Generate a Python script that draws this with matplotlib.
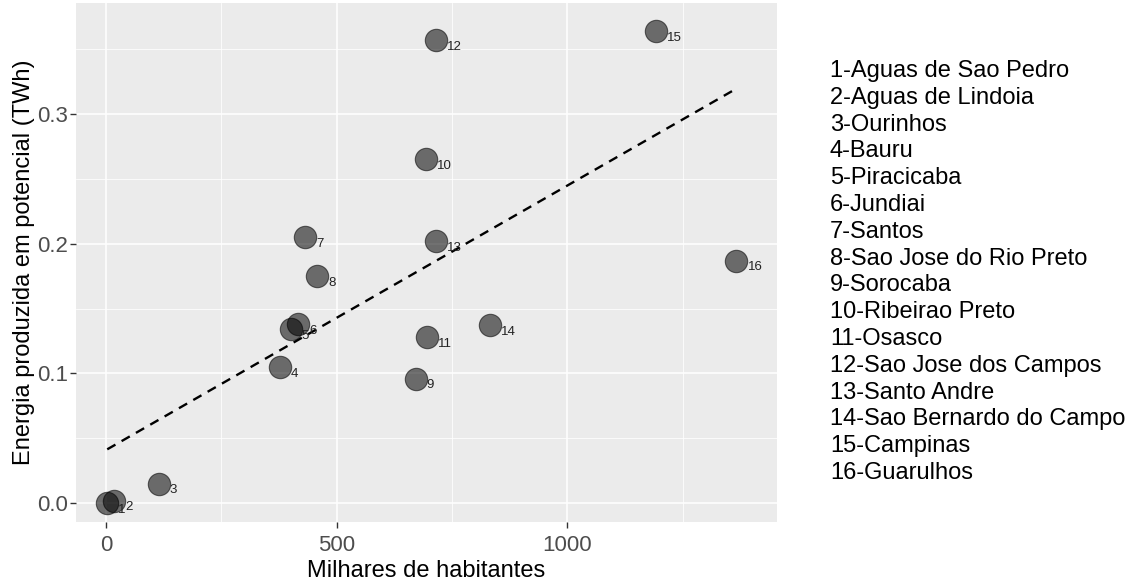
import numpy as np
import matplotlib
matplotlib.use("Agg")
import matplotlib.pyplot as plt

plt.rcParams['font.family'] = ['Liberation Sans', 'DejaVu Sans']

# dados: populacao (milhares) e energia (TWh)
ids = list(range(1, 17))
cidades = ["Aguas de Sao Pedro", "Aguas de Lindoia", "Ourinhos", "Bauru",
           "Piracicaba", "Jundiai", "Santos", "Sao Jose do Rio Preto",
           "Sorocaba", "Ribeirao Preto", "Osasco", "Sao Jose dos Campos",
           "Santo Andre", "Sao Bernardo do Campo", "Campinas", "Guarulhos"]
habitantes = np.array([2.7, 18, 114, 376, 400, 417, 431, 457,
                       671, 694, 695, 715, 715, 832, 1192, 1366])
energia = np.array([0.000, 0.002, 0.015, 0.105, 0.134, 0.138, 0.205, 0.175,
                    0.096, 0.265, 0.128, 0.357, 0.202, 0.137, 0.364, 0.187])

fig = plt.figure(figsize=(11.37, 5.83), dpi=100)
ax = fig.add_axes([76/1137, 1-522/583, (777-76)/1137, (522-3)/583])
ax.set_facecolor('#EBEBEB')

ax.scatter(habitantes, energia, s=260, c='black', alpha=0.55,
           edgecolors='black', linewidths=0.8, zorder=3)

# reta de regressao
a, b = np.polyfit(habitantes, energia, 1)
xr = np.array([habitantes.min(), habitantes.max()])
ax.plot(xr, a*xr + b, color='black', lw=1.7, ls=(0, (4, 3)), zorder=4)

for i, x, y in zip(ids, habitantes, energia):
    ax.annotate(str(i), (x, y), xytext=(8, -0.5), textcoords='offset points',
                ha='left', va='top', fontsize=9.5, color='#222222', zorder=5)

ax.set_xlim(-65, 1454)
ax.set_ylim(-0.0145, 0.3855)
ax.set_xticks([0, 500, 1000])
ax.set_xticks([250, 750, 1250], minor=True)
ax.set_yticks([0.0, 0.1, 0.2, 0.3])
ax.set_yticklabels(['0.0', '0.1', '0.2', '0.3'])
ax.set_yticks([0.05, 0.15, 0.25, 0.35], minor=True)
ax.grid(which='major', color='white', lw=1.1)
ax.grid(which='minor', color='white', lw=0.55)
ax.set_axisbelow(True)
for s in ax.spines.values():
    s.set_visible(False)
ax.tick_params(which='major', length=4, width=1, color='#333333',
               labelsize=16, labelcolor='#4D4D4D', pad=2)
ax.tick_params(axis='x', which='major', pad=5.5)
ax.tick_params(which='minor', length=0)

ax.set_xlabel('Milhares de habitantes', fontsize=17, labelpad=3)
ax.set_ylabel('Energia produzida em potencial (TWh)', fontsize=17, labelpad=1.5)

for k, (i, nome) in enumerate(zip(ids, cidades)):
    fig.text(830/1137, 1 - (71 + k*26.8)/583, f"{i}-{nome}",
             fontsize=17, ha='left', va='center')

fig.savefig('out.png', dpi=100)
